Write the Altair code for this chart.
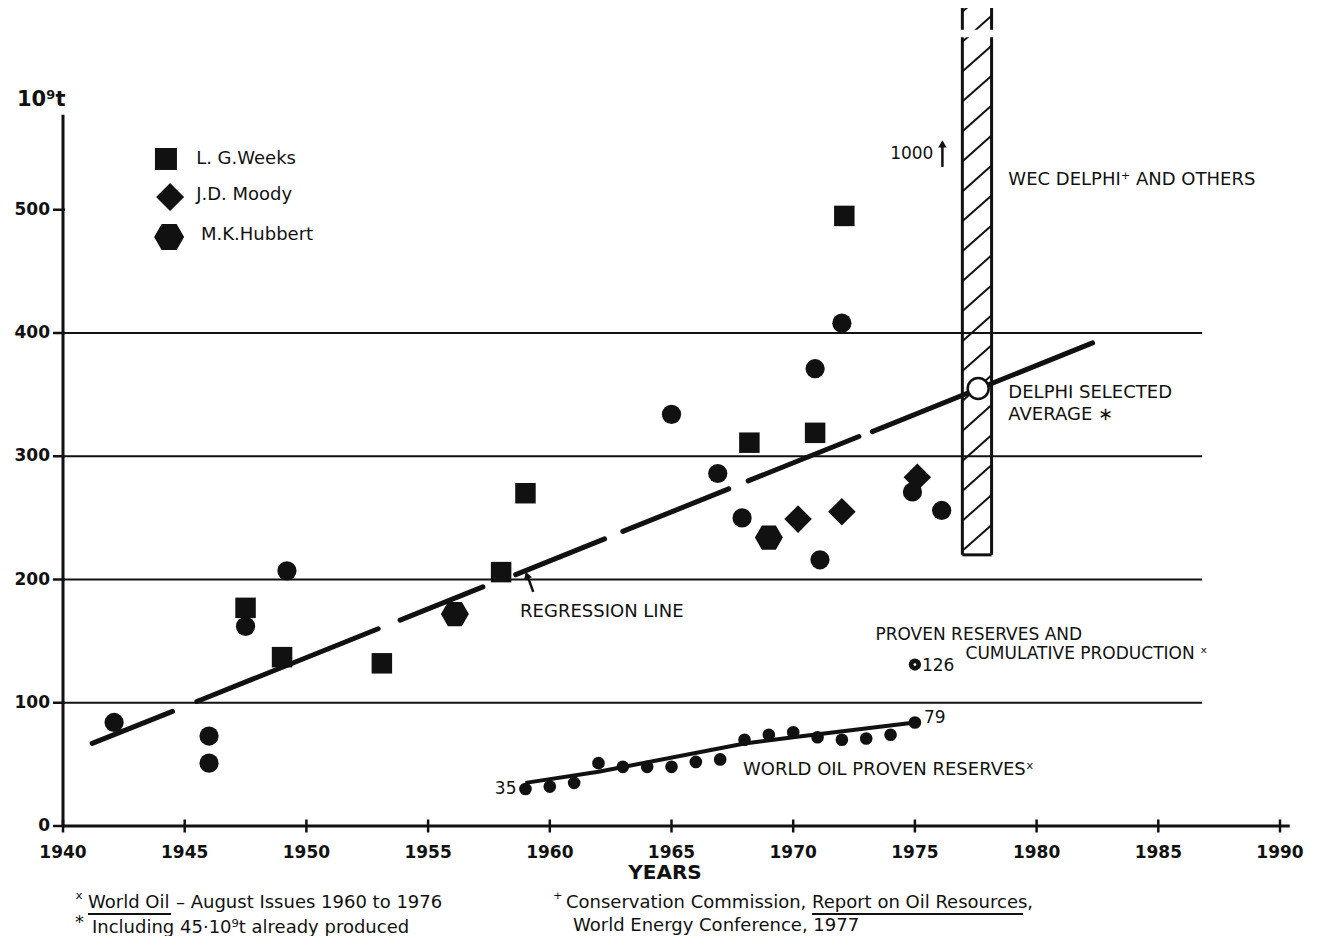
import altair as alt
import pandas as pd

FONT = "DejaVu Sans"
INK = "#111111"

# ---------------- values ----------------
x_ticks = [1940, 1945, 1950, 1955, 1960, 1965, 1970, 1975, 1980, 1985, 1990]
y_ticks = [0, 100, 200, 300, 400, 500]
grid_values = [100, 200, 300, 400]
grid_start = 1940
grid_end = 1986.8
x_axis_end = 1990.4
y_axis_top = 577

# unlabelled estimates (filled circles)
other_years = [1942.1, 1946.0, 1946.0, 1947.5, 1949.2, 1965.0, 1966.9, 1967.9,
               1970.9, 1972.0, 1971.1, 1974.9, 1976.1]
other_vals = [84, 73, 51, 162, 207, 334, 286, 250, 371, 408, 216, 271, 256]

# L.G. Weeks (squares)
weeks_years = [1947.5, 1949.0, 1953.1, 1958.0, 1959.0, 1968.2, 1970.9, 1972.1]
weeks_vals = [177, 137, 132, 206, 270, 311, 319, 495]

# J.D. Moody (diamonds)
moody_years = [1970.2, 1972.0, 1975.1]
moody_vals = [249, 255, 283]

# M.K. Hubbert (hexagons)
hubbert_years = [1956.1, 1969.0]
hubbert_vals = [172, 234]

# Delphi selected average (open circle)
delphi_years = [1977.6]
delphi_vals = [355]

# World oil proven reserves
reserve_years = list(range(1959, 1976))
reserve_vals = [30, 32, 35, 51, 48, 48, 48, 52, 54, 70, 74, 76, 72, 70, 71, 74, 84]
reserve_trend_years = [1959, 1962, 1968, 1970, 1975]
reserve_trend_vals = [35, 44, 67, 72, 84]
reserve_first_label = "35"
reserve_last_label = "79"

# proven reserves and cumulative production
cum_years = [1975.0]
cum_vals = [131]
cum_labels = ["126"]

# regression line, drawn as dashes (start / end of each dash)
reg_x1 = [1941.2, 1945.5, 1953.85, 1958.6, 1963.0, 1968.15, 1973.25]
reg_y1 = [67, 101, 167, 204, 239, 280, 320]
reg_x2 = [1944.5, 1952.95, 1957.25, 1962.25, 1967.35, 1972.7, 1982.3]
reg_y2 = [93, 160, 194, 233, 273.5, 316, 392]

# WEC Delphi and others (hatched range)
wec_year_from = 1976.95
wec_year_to = 1978.15
wec_low = 220
wec_high = 1000
wec_break = [640, 646]

legend_labels = ["L. G.Weeks", "J.D. Moody", "M.K.Hubbert"]

# ---------------- layout ----------------
W, H = 1217, 818
YTOP = H / 1.2325
xs = alt.Scale(domain=[1940, 1990], nice=False, zero=False)
ys = alt.Scale(domain=[0, YTOP], nice=False, zero=False)
HEX = "M-1,0L-0.5,-0.866L0.5,-0.866L1,0L0.5,0.866L-0.5,0.866Z"


def X(f):
    return alt.X(f, type="quantitative", scale=xs, axis=None)


def Y(f):
    return alt.Y(f, type="quantitative", scale=ys, axis=None)


def PX(f):
    return alt.X(f, type="quantitative", scale=None, axis=None)


def PY(f):
    return alt.Y(f, type="quantitative", scale=None, axis=None)


# gridlines
grid_df = pd.DataFrame({"v": grid_values, "x0": grid_start, "x1": grid_end})
grid = alt.Chart(grid_df).mark_rule(color=INK, strokeWidth=2).encode(
    x=X("x0"), x2="x1:Q", y=Y("v"))

# axes drawn from the tick lists
yline = alt.Chart(pd.DataFrame({"x": [1940], "y0": [0], "y1": [y_axis_top]})).mark_rule(
    color=INK, strokeWidth=3).encode(x=X("x"), y=Y("y0"), y2="y1:Q")
xline = alt.Chart(pd.DataFrame({"x0": [1940], "x1": [x_axis_end], "y": [0]})).mark_rule(
    color=INK, strokeWidth=3).encode(x=X("x0"), x2="x1:Q", y=Y("y"))
xtick = alt.Chart(pd.DataFrame({"x": x_ticks, "y": 0})).mark_tick(
    orient="vertical", size=13, thickness=2.5, color=INK, opacity=1).encode(
    x=X("x"), y=Y("y"))
xlab = alt.Chart(pd.DataFrame({"x": x_ticks, "t": [str(v) for v in x_ticks]})).mark_text(
    align="center", baseline="middle", font=FONT, fontSize=17, fontWeight="bold",
    color=INK).encode(x=X("x"), y=alt.value(H + 27), text="t:N")
ytick = alt.Chart(pd.DataFrame({"v": y_ticks})).mark_rule(
    color=INK, strokeWidth=2.5).encode(x=alt.value(-10), x2=alt.value(2), y=Y("v"))
ylab = alt.Chart(pd.DataFrame({"v": y_ticks, "t": [str(v) for v in y_ticks]})).mark_text(
    align="right", baseline="middle", font=FONT, fontSize=17, fontWeight="bold",
    color=INK).encode(x=alt.value(-13), y=Y("v"), text="t:N")

# hatched WEC range
bar_sides = alt.Chart(pd.DataFrame({"x": [wec_year_from, wec_year_to],
                                    "y0": wec_low, "y1": wec_high})).mark_rule(
    color=INK, strokeWidth=3, clip=True).encode(x=X("x"), y=Y("y0"), y2="y1:Q")
bar_bottom = alt.Chart(pd.DataFrame({"x0": [wec_year_from], "x1": [wec_year_to],
                                     "y": [wec_low]})).mark_rule(
    color=INK, strokeWidth=3).encode(x=X("x0"), x2="x1:Q", y=Y("y"))

RISE = 21.0
STEP = 24.3
hatch = alt.Chart(alt.sequence(0, 22, as_="k")).transform_calculate(
    v0=f"{wec_low} - {RISE} + datum.k * {STEP}"
).transform_calculate(
    tlo=f"max(0, ({wec_low} - datum.v0) / {RISE})",
    thi=f"min(1, ({wec_high} - datum.v0) / {RISE})",
).transform_filter("datum.tlo < datum.thi").transform_calculate(
    hx1=f"{wec_year_from} + datum.tlo * {wec_year_to - wec_year_from}",
    hx2=f"{wec_year_from} + datum.thi * {wec_year_to - wec_year_from}",
    hy1=f"datum.v0 + datum.tlo * {RISE}",
    hy2=f"datum.v0 + datum.thi * {RISE}",
).mark_rule(color=INK, strokeWidth=2, clip=True).encode(
    x=X("hx1"), x2="hx2:Q", y=Y("hy1"), y2="hy2:Q")

bar_break = alt.Chart(pd.DataFrame({"x0": [wec_year_from - 0.15], "x1": [wec_year_to + 0.15],
                                    "y0": [wec_break[0]], "y1": [wec_break[1]]})).mark_rect(
    color="white", opacity=1).encode(x=X("x0"), x2="x1:Q", y=Y("y0"), y2="y1:Q")

# regression line dashes
reg_df = pd.DataFrame({"x1": reg_x1, "y1": reg_y1, "x2": reg_x2, "y2": reg_y2})
regression = alt.Chart(reg_df).mark_rule(color=INK, strokeWidth=5, strokeCap="round").encode(
    x=X("x1"), y=Y("y1"), x2="x2:Q", y2="y2:Q")

trend = alt.Chart(pd.DataFrame({"x": reserve_trend_years, "y": reserve_trend_vals})).mark_line(
    color=INK, strokeWidth=4).encode(x=X("x"), y=Y("y"))


def pts(years, vals, shape, size, **kw):
    return alt.Chart(pd.DataFrame({"x": years, "y": vals})).mark_point(
        shape=shape, size=size, filled=True, color=INK, opacity=1, **kw).encode(
        x=X("x"), y=Y("y"))


others = pts(other_years, other_vals, "circle", 370)
weeks = pts(weeks_years, weeks_vals, "square", 420)
moody = pts(moody_years, moody_vals, "diamond", 760)
hubbert = pts(hubbert_years, hubbert_vals, HEX, 784)
reserves = pts(reserve_years, reserve_vals, "circle", 160)
cum = pts(cum_years, cum_vals, "circle", 150)
cum_dot = alt.Chart(pd.DataFrame({"x": cum_years, "y": cum_vals})).mark_point(
    shape="circle", size=8, filled=True, color="white", opacity=1).encode(x=X("x"), y=Y("y"))
delphi = alt.Chart(pd.DataFrame({"x": delphi_years, "y": delphi_vals})).mark_point(
    shape="circle", size=441, filled=True, fill="white", stroke=INK, strokeWidth=2.5,
    opacity=1).encode(x=X("x"), y=Y("y"))

# arrows
arrow_lines = alt.Chart(pd.DataFrame({
    "x1": [1976.13, 1959.32], "y1": [534.7, 190.0],
    "x2": [1976.13, 1959.10], "y2": [552.0, 202.0]})).mark_rule(
    color=INK, strokeWidth=2.5).encode(x=X("x1"), y=Y("y1"), x2="x2:Q", y2="y2:Q")
arrow_heads = alt.Chart(pd.DataFrame({
    "x": [1976.13, 1959.06], "y": [553.5, 203.5], "a": [0, 342]})).mark_point(
    shape="triangle-up", size=70, filled=True, color=INK, opacity=1).encode(
    x=X("x"), y=Y("y"), angle=alt.Angle("a:Q", scale=None))

# legend
leg_df = pd.DataFrame({
    "sx": [1944.23, 1944.40, 1944.36], "sy": [541.2, 510.3, 477.9],
    "shape": ["square", "diamond", HEX], "sz": [484, 784, 900],
    "tx": [1945.47, 1945.47, 1945.67], "ty": [541.2, 512.0, 479.5],
    "label": legend_labels})
leg_sym = alt.Chart(leg_df).mark_point(filled=True, color=INK, opacity=1).encode(
    x=X("sx"), y=Y("sy"), shape=alt.Shape("shape:N", scale=None),
    size=alt.Size("sz:Q", scale=None))
leg_txt = alt.Chart(leg_df).mark_text(align="left", baseline="middle", font=FONT,
                                       fontSize=18, color=INK).encode(
    x=X("tx"), y=Y("ty"), text="label:N")

# annotations in data space
ann_df = pd.DataFrame({
    "text": ["REGRESSION LINE", "WEC DELPHI\u207a AND OTHERS", "DELPHI SELECTED",
             "AVERAGE \u2217", "WORLD OIL PROVEN RESERVES\u02e3"],
    "x": [1958.78, 1978.84, 1978.84, 1978.84, 1967.94],
    "y": [173.6, 524.1, 351.3, 333.5, 45.4]})
ann = alt.Chart(ann_df).mark_text(align="left", baseline="middle", font=FONT,
                                  fontSize=18, color=INK).encode(
    x=X("x"), y=Y("y"), text="text:N")
ann2_df = pd.DataFrame({
    "text": ["PROVEN RESERVES AND", "CUMULATIVE PRODUCTION \u02e3"],
    "x": [1973.38, 1977.08],
    "y": [155.0, 139.2]})
ann2 = alt.Chart(ann2_df).mark_text(align="left", baseline="middle", font=FONT,
                                    fontSize=17, color=INK).encode(
    x=X("x"), y=Y("y"), text="text:N")
ann_1000 = alt.Chart(pd.DataFrame({"text": ["1000"], "x": [1975.76], "y": [545.0]})).mark_text(
    align="right", baseline="middle", font=FONT, fontSize=17, color=INK).encode(
    x=X("x"), y=Y("y"), text="text:N")

lab_first = alt.Chart(pd.DataFrame({"x": [reserve_years[0]], "y": [reserve_vals[0]],
                                    "t": [reserve_first_label]})).mark_text(
    align="right", baseline="middle", dx=-9, font=FONT, fontSize=17, color=INK).encode(
    x=X("x"), y=Y("y"), text="t:N")
lab_last = alt.Chart(pd.DataFrame({"x": [reserve_years[-1]], "y": [reserve_vals[-1]],
                                   "t": [reserve_last_label]})).mark_text(
    align="left", baseline="middle", dx=9, dy=-4, font=FONT, fontSize=17, color=INK).encode(
    x=X("x"), y=Y("y"), text="t:N")
lab_cum = alt.Chart(pd.DataFrame({"x": cum_years, "y": cum_vals, "t": cum_labels})).mark_text(
    align="left", baseline="middle", dx=7, dy=1, font=FONT, fontSize=17, color=INK).encode(
    x=X("x"), y=Y("y"), text="t:N")

# texts outside the plot area (pixel positions relative to plot origin)
foot_df = pd.DataFrame({
    "text": ["\u02e3", "World Oil", "\u2013 August Issues 1960 to 1976", "*",
             "Including  45\u00b710\u2079t already produced", "\u207a",
             "Conservation  Commission,", "Report on Oil Resources,",
             "World Energy  Conference, 1977"],
    "px": [12, 25, 113, 12, 29, 490, 503, 749, 510],
    "py": [892, 895, 895, 915, 920, 892, 895, 895, 918],
})
foot = alt.Chart(foot_df).mark_text(align="left", baseline="middle", font=FONT,
                                    fontSize=18, color=INK).encode(
    x=PX("px"), y=PY("py"), text="text:N")
underline = alt.Chart(pd.DataFrame({"x0": [25, 749], "x1": [108, 960], "y": [906, 906]})).mark_rule(
    color=INK, strokeWidth=2).encode(x=PX("x0"), x2="x1:Q", y=PY("y"))

titles = alt.Chart(pd.DataFrame({"text": ["YEARS"], "px": [602], "py": [865]})).mark_text(
    align="center", baseline="middle", font=FONT, fontSize=20, fontWeight="bold",
    color=INK).encode(x=PX("px"), y=PY("py"), text="text:N")
ytitle = alt.Chart(pd.DataFrame({"text": ["10\u2079t"], "px": [-46], "py": [92]})).mark_text(
    align="left", baseline="middle", font=FONT, fontSize=21, fontWeight="bold",
    color=INK).encode(x=PX("px"), y=PY("py"), text="text:N")

chart = alt.layer(
    grid, yline, xline, xtick, ytick, xlab, ylab,
    hatch, bar_sides, bar_bottom, bar_break,
    regression, trend,
    others, weeks, moody, hubbert, reserves, cum, cum_dot, delphi,
    arrow_lines, arrow_heads,
    leg_sym, leg_txt, ann, ann2, ann_1000, lab_first, lab_last, lab_cum,
    foot, underline, titles, ytitle,
).properties(
    width=W, height=H,
    autosize=alt.AutoSizeParams(type="none"),
    padding={"left": 55, "top": 0, "right": 37, "bottom": 110},
    background="white",
).configure_view(stroke=None)

chart.save("out.html", embed_options={"renderer": "svg", "actions": False})
